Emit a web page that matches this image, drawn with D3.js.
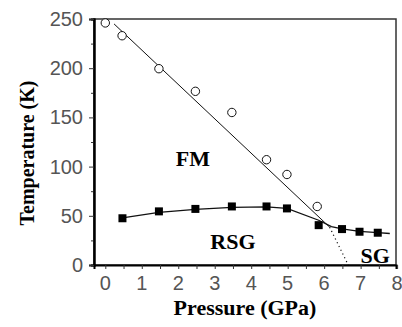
<!DOCTYPE html>
<html>
<head>
<meta charset="utf-8">
<script src="https://cdn.jsdelivr.net/npm/d3@7"></script>
<style>
  body { margin: 0; background: #fff; }
</style>
</head>
<body>
<div id="chart"></div>
<script>
// data
var fmPressure = [0, 0.46, 1.47, 2.47, 3.47, 4.42, 4.98, 5.81];
var fmTemp     = [246, 233, 199.5, 176.5, 155, 107, 92, 59.5];

var rsgPressure = [0.47, 1.47, 2.47, 3.47, 4.42, 4.98, 5.85, 6.49, 6.97, 7.47];
var rsgTemp     = [47.5, 54.5, 57, 59.5, 59.5, 57.5, 40.5, 36.5, 33.8, 32.8];

// fitted boundary lines
var fmLineP = [0.24, 6.15];
var fmLineT = [245, 38.5];
var dotLineP = [6.15, 6.66];
var dotLineT = [38.5, 0];
var rsgLineP = [0.47, 1.47, 2.47, 3.47, 4.42, 4.98, 5.85, 6.2, 6.49, 6.97, 7.47, 7.8];
var rsgLineT = [48, 53.5, 56.5, 58.5, 59, 57.5, 45.5, 39, 36.8, 34.2, 33, 32];

var xTicks = [0, 1, 2, 3, 4, 5, 6, 7, 8];
var yTicks = [0, 50, 100, 150, 200, 250];

var margin = {top: 19, right: 6, bottom: 62, left: 94},
    width = 402 - margin.left - margin.right,
    height = 327 - margin.top - margin.bottom;

var svg = d3.select("#chart")
    .append("svg")
    .attr("width", 402)
    .attr("height", 327)
    .append("g")
    .attr("transform", "translate(" + margin.left + "," + margin.top + ")");

var x = d3.scaleLinear().domain([-0.31, 7.97]).range([0, width]);
var y = d3.scaleLinear().domain([0, 250]).range([height, 0]);

// frame
svg.append("rect")
    .attr("x", 0).attr("y", 0)
    .attr("width", width).attr("height", height)
    .attr("fill", "none")
    .attr("stroke", "#333")
    .attr("stroke-width", 1.5);

// axes: minor ticks short, major ticks a bit longer on y
svg.append("g")
    .attr("transform", "translate(0," + height + ")")
    .call(d3.axisBottom(x).tickValues(d3.range(0, 8.01, 0.5)).tickSize(4).tickFormat(""));
svg.append("g")
    .call(d3.axisLeft(y).tickValues(d3.range(25, 251, 50)).tickSize(3).tickFormat(""));
svg.append("g")
    .call(d3.axisLeft(y).tickValues(yTicks).tickSize(5).tickFormat(""));
svg.selectAll(".domain").attr("stroke", "#000").attr("stroke-width", 2);
svg.selectAll(".tick line").attr("stroke", "#333");

svg.selectAll(".xlab")
    .data(xTicks)
    .enter().append("text")
    .attr("x", function(d) { return x(d); })
    .attr("y", height + 25)
    .attr("text-anchor", "middle")
    .attr("font-family", "Liberation Sans")
    .attr("font-size", "20px")
    .attr("fill", "#555")
    .text(function(d) { return d; });

svg.selectAll(".ylab")
    .data(yTicks)
    .enter().append("text")
    .attr("x", -11)
    .attr("y", function(d) { return y(d) + 7; })
    .attr("text-anchor", "end")
    .attr("font-family", "Liberation Sans")
    .attr("font-size", "20px")
    .attr("fill", "#555")
    .text(function(d) { return d; });

// axis titles
svg.append("text")
    .attr("x", 151)
    .attr("y", height + 50)
    .attr("text-anchor", "middle")
    .attr("font-family", "Liberation Serif")
    .attr("font-weight", "bold")
    .attr("font-size", "22px")
    .text("Pressure (GPa)");

svg.append("text")
    .attr("transform", "rotate(-90)")
    .attr("x", -134)
    .attr("y", -60)
    .attr("text-anchor", "middle")
    .attr("font-family", "Liberation Serif")
    .attr("font-weight", "bold")
    .attr("font-size", "20px")
    .text("Temperature (K)");

// lines
var line = d3.line()
    .x(function(d) { return x(d[0]); })
    .y(function(d) { return y(d[1]); });

svg.append("path")
    .attr("d", line(d3.zip(fmLineP, fmLineT)))
    .attr("fill", "none")
    .attr("stroke", "#111")
    .attr("stroke-width", 1);

svg.append("path")
    .attr("d", line(d3.zip(dotLineP, dotLineT)))
    .attr("fill", "none")
    .attr("stroke", "#111")
    .attr("stroke-width", 1.2)
    .attr("stroke-dasharray", "1.2,3");

svg.append("path")
    .attr("d", line(d3.zip(rsgLineP, rsgLineT)))
    .attr("fill", "none")
    .attr("stroke", "#111")
    .attr("stroke-width", 1.3);

// points
svg.selectAll(".fm")
    .data(d3.zip(fmPressure, fmTemp))
    .enter().append("circle")
    .attr("cx", function(d) { return x(d[0]); })
    .attr("cy", function(d) { return y(d[1]); })
    .attr("r", 4.2)
    .attr("fill", "#fff")
    .attr("stroke", "#111")
    .attr("stroke-width", 1);

svg.selectAll(".rsg")
    .data(d3.zip(rsgPressure, rsgTemp))
    .enter().append("rect")
    .attr("x", function(d) { return x(d[0]) - 4; })
    .attr("y", function(d) { return y(d[1]) - 4; })
    .attr("width", 8)
    .attr("height", 8)
    .attr("fill", "#000");

// phase labels
var phases = [["FM", 2.4, 101], ["RSG", 3.5, 16.5], ["SG", 7.4, 2.5]];
svg.selectAll(".phase")
    .data(phases)
    .enter().append("text")
    .attr("x", function(d) { return x(d[1]); })
    .attr("y", function(d) { return y(d[2]); })
    .attr("text-anchor", "middle")
    .attr("font-family", "Liberation Serif")
    .attr("font-weight", "bold")
    .attr("font-size", "22px")
    .text(function(d) { return d[0]; });
</script>
</body>
</html>
